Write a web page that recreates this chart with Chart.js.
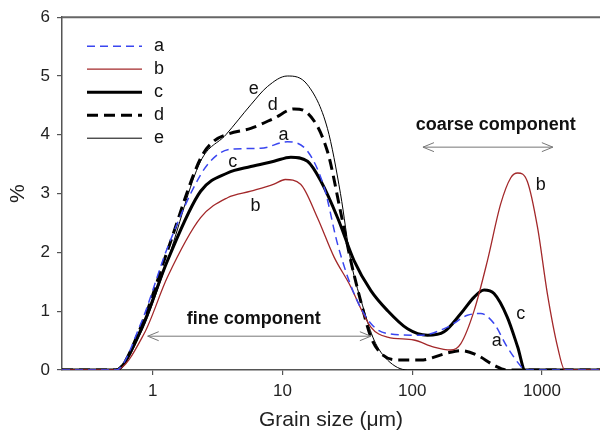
<!DOCTYPE html>
<html>
<head>
<meta charset="utf-8">
<script src="https://cdn.jsdelivr.net/npm/chart.js@4"></script>
<style>
  body { margin: 0; background: #fff; }
  #wrap { width: 600px; height: 435px; }
</style>
</head>
<body>
<div id="wrap"><canvas id="grain"></canvas></div>
<script>
// grain size (µm) and % for each sample
const aSize = [0.2, 0.52, 0.81, 1.3, 2.34, 3.15, 4.24, 6.8, 10.9, 15.6, 21, 26.6, 35.6, 48, 64.5, 116, 187, 266, 337, 427, 540, 690, 740, 2800];
const aPct  = [0, 0, 0.79, 2.08, 3.32, 3.66, 3.76, 3.77, 3.88, 3.72, 3.1, 2.14, 1.3, 0.79, 0.62, 0.59, 0.73, 0.93, 0.96, 0.79, 0.39, 0.06, 0, 0];

const bSize = [0.2, 0.52, 0.86, 1.3, 2.34, 3.77, 5.7, 8.6, 10.5, 13.8, 18.6, 25, 32.6, 48, 64.5, 103, 147, 198, 237, 300, 380, 480, 575, 650, 770, 925, 1100, 1320, 1500, 2800];
const bPct  = [0, 0, 0.62, 1.58, 2.59, 2.93, 3.04, 3.16, 3.24, 3.16, 2.59, 1.92, 1.47, 0.73, 0.56, 0.51, 0.39, 0.34, 0.45, 1.01, 1.86, 2.82, 3.27, 3.35, 3.21, 2.42, 1.3, 0.39, 0, 0];

const cSize = [0.2, 0.52, 0.81, 1.3, 2.34, 3.77, 5.7, 8.6, 11.6, 15.6, 19.8, 26.6, 35.6, 48, 64.5, 92, 131, 176, 237, 300, 358, 427, 540, 650, 740, 2800];
const cPct  = [0, 0, 0.68, 1.86, 3.04, 3.35, 3.46, 3.55, 3.62, 3.55, 3.21, 2.59, 1.86, 1.35, 1.01, 0.7, 0.59, 0.65, 0.96, 1.24, 1.36, 1.3, 0.9, 0.39, 0, 0];

const dSize = [0.2, 0.52, 0.81, 1.3, 2.34, 2.95, 3.77, 5.7, 8.6, 12.3, 15.6, 22.2, 28, 33.6, 40, 48, 57, 77, 116, 187, 237, 318, 427, 540, 2800];
const dPct  = [0, 0, 0.73, 2.03, 3.6, 3.89, 4.01, 4.11, 4.28, 4.44, 4.37, 3.72, 2.7, 1.86, 1.18, 0.56, 0.29, 0.17, 0.17, 0.29, 0.33, 0.25, 0.08, 0, 0];

const eSize = [0.2, 0.52, 0.81, 1.3, 2.34, 3.66, 5.7, 7.66, 10.9, 15.6, 22.2, 28, 33.6, 42.6, 50.8, 64.5, 92, 2800];
const ePct  = [0, 0, 0.63, 1.86, 3.55, 4.0, 4.51, 4.82, 5.0, 4.85, 4.11, 3.0, 1.86, 1.01, 0.51, 0.17, 0, 0];

const xTicks = [1, 10, 100, 1000];
const yTicks = [0, 1, 2, 3, 4, 5, 6];

// curve letters placed beside the lines [label, size, %]
const curveLabels = [
  ['e', 6.0, 4.78], ['d', 8.4, 4.5], ['a', 10.2, 4.0], ['c', 4.14, 3.53], ['b', 6.2, 2.79],
  ['b', 980, 3.14], ['c', 687, 0.96], ['a', 449, 0.49]
];

const pts = (xs, ys) => xs.map((x, i) => ({ x: x, y: ys[i] }));

const series = [
  { label: 'a', data: pts(aSize, aPct), borderColor: '#3a46f0', borderWidth: 1.5, borderDash: [8, 5] },
  { label: 'b', data: pts(bSize, bPct), borderColor: '#a3282a', borderWidth: 1.3 },
  { label: 'c', data: pts(cSize, cPct), borderColor: '#000', borderWidth: 3 },
  { label: 'd', data: pts(dSize, dPct), borderColor: '#000', borderWidth: 3, borderDash: [11, 6] },
  { label: 'e', data: pts(eSize, ePct), borderColor: '#000', borderWidth: 1 }
];
series.forEach(s => { s.pointRadius = 0; s.fill = false; s.cubicInterpolationMode = 'monotone'; });

const family = '"Liberation Sans", Arial, sans-serif';

function arrow(ctx, x1, x2, y) {
  ctx.beginPath();
  ctx.moveTo(x1, y); ctx.lineTo(x2, y);
  ctx.moveTo(x1 + 11, y - 4.5); ctx.lineTo(x1, y); ctx.lineTo(x1 + 11, y + 4.5);
  ctx.moveTo(x2 - 11, y - 4.5); ctx.lineTo(x2, y); ctx.lineTo(x2 - 11, y + 4.5);
  ctx.stroke();
}

const extras = {
  id: 'extras',
  afterDatasetsDraw(chart) {
    const ctx = chart.ctx, xs = chart.scales.x, ys = chart.scales.y, ca = chart.chartArea;
    ctx.save();
    // top frame line
    ctx.strokeStyle = '#666'; ctx.lineWidth = 2;
    ctx.beginPath(); ctx.moveTo(ca.left, ca.top); ctx.lineTo(ca.right, ca.top); ctx.stroke();

    ctx.fillStyle = '#111';
    ctx.font = '18px ' + family;
    ctx.textAlign = 'center'; ctx.textBaseline = 'middle';
    curveLabels.forEach(l => ctx.fillText(l[0], xs.getPixelForValue(l[1]), ys.getPixelForValue(l[2])));

    // component annotations
    ctx.font = 'bold 18px ' + family;
    ctx.fillText('coarse component', xs.getPixelForValue(441), ys.getPixelForValue(4.17));
    ctx.fillText('fine component', xs.getPixelForValue(6.0), ys.getPixelForValue(0.86));
    ctx.strokeStyle = '#777'; ctx.lineWidth = 1;
    arrow(ctx, xs.getPixelForValue(121), xs.getPixelForValue(1213), ys.getPixelForValue(3.79));
    arrow(ctx, xs.getPixelForValue(0.915), xs.getPixelForValue(48), ys.getPixelForValue(0.575));

    // legend
    ctx.font = '18px ' + family;
    ctx.textAlign = 'left';
    series.forEach((s, i) => {
      const y = ca.top + 29 + i * 23;
      ctx.strokeStyle = s.borderColor; ctx.lineWidth = s.borderWidth;
      ctx.setLineDash(s.borderDash || []);
      ctx.beginPath(); ctx.moveTo(ca.left + 25, y); ctx.lineTo(ca.left + 80, y); ctx.stroke();
      ctx.setLineDash([]);
      ctx.fillStyle = '#111';
      ctx.fillText(s.label, ca.left + 92, y);
    });
    ctx.restore();
  }
};

const font = { family: family, size: 17 };

new Chart(document.getElementById('grain'), {
  type: 'line',
  data: { datasets: series },
  options: {
    responsive: true,
    maintainAspectRatio: false,
    animation: false,
    layout: { padding: { top: 15, right: 0, left: 0, bottom: 0 } },
    plugins: { legend: { display: false }, tooltip: { enabled: false } },
    scales: {
      x: {
        type: 'logarithmic',
        min: 0.2, max: 2800,
        afterBuildTicks: s => { s.ticks = xTicks.map(v => ({ value: v })); },
        afterFit: s => { s.height = 65; },
        ticks: { callback: v => String(v), color: '#222', font: font, padding: 6, maxRotation: 0 },
        grid: { drawOnChartArea: false, drawTicks: true, tickLength: 5, color: '#555', lineWidth: 1.2 },
        border: { display: true, color: '#555', width: 1.5 },
        title: { display: true, text: 'Grain size (\u03bcm)', color: '#222',
                 font: { family: family, size: 21 }, padding: { top: 0, bottom: 2 } }
      },
      y: {
        min: 0, max: 6,
        afterBuildTicks: s => { s.ticks = yTicks.map(v => ({ value: v })); },
        afterFit: s => { s.width = 62; },
        ticks: { color: '#222', font: font, padding: 7 },
        grid: { drawOnChartArea: false, drawTicks: true, tickLength: 5, color: '#555', lineWidth: 1.2 },
        border: { display: true, color: '#555', width: 1.5 },
        title: { display: true, text: '%', color: '#222',
                 font: { family: family, size: 21 }, padding: { top: 6, bottom: 6 } }
      }
    }
  },
  plugins: [extras]
});
</script>
</body>
</html>
